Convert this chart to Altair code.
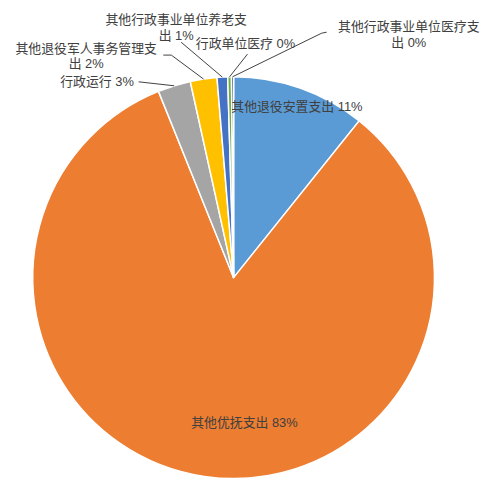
import altair as alt
import pandas as pd
import numpy as np

# ---- data ----
names = ["其他退役安置支出", "其他优抚支出", "行政运行", "其他退役军人事务管理支出",
         "其他行政事业单位养老支出", "行政单位医疗", "其他行政事业单位医疗支出"]
values = [10.75, 83.15, 2.64, 2.14, 0.85, 0.30, 0.17]
colors = ["#5B9BD5", "#ED7D31", "#A5A5A5", "#FFC000", "#4472C4", "#70AD47", "#264478"]
wrap_at = [None, None, None, 11, 11, None, 11]   # label line break position

# ---- layout (style) ----
R = 203.0                     # pie radius in px (1 data unit)
W, H = 472, 465
CX, CY = 228.0, 270.0         # pie centre within plot
xs = alt.Scale(domain=[-CX / R, (W - CX) / R], nice=False, zero=False)
ys = alt.Scale(domain=[-(H - CY) / R, CY / R], nice=False, zero=False)
LINE_GAP = 16.0 / R

# label anchor positions of first line (data units, relative to centre)
label_pos = [(0.315, 0.847), (0.054, -0.724), (-0.680, 0.975), (-0.734, 1.140),
             (-0.286, 1.283), (0.059, 1.163), (0.872, 1.248)]
# leader line start points (None = no leader line)
leader_start = [None, None,
                [(-0.473, 0.975)],
                [(-0.350, 1.108), (-0.310, 1.108)],
                [(-0.261, 1.172)],
                [(0.069, 1.113)],
                [(0.463, 1.222), (0.438, 1.217)]]

total = sum(values)
cum = np.cumsum([0] + values)
pie = pd.DataFrame({
    "name": names, "value": values, "idx": range(len(names)),
    "t0": cum[:-1], "t1": cum[1:], "cx": 0.0, "cy": 0.0,
})

labels = []
for i, n in enumerate(names):
    pct = f"{round(values[i] / total * 100)}%"
    if wrap_at[i]:
        parts = [n[:wrap_at[i]], n[wrap_at[i]:] + " " + pct]
    else:
        parts = [n + " " + pct]
    for k, p in enumerate(parts):
        labels.append({"name": n, "txt": p, "lx": label_pos[i][0],
                       "ly": label_pos[i][1] - k * LINE_GAP})
labels = pd.DataFrame(labels)

lines = []
for i, n in enumerate(names):
    if leader_start[i] is None:
        continue
    mid = (cum[i] + cum[i + 1]) / 2 / total * 2 * np.pi
    pts = list(leader_start[i]) + [(np.sin(mid) * 1.0, np.cos(mid) * 1.0)]
    for k, (px, py) in enumerate(pts):
        lines.append({"name": n, "seq": k, "px": px, "py": py})
lines = pd.DataFrame(lines)

arc = alt.Chart(pie).mark_arc(outerRadius=R, stroke="white", strokeWidth=1.5).encode(
    x=alt.X("cx:Q", scale=xs, axis=None),
    y=alt.Y("cy:Q", scale=ys, axis=None),
    theta=alt.Theta("t0:Q", scale=alt.Scale(domain=[0, total], range=[0, 2 * np.pi])),
    theta2="t1:Q",
    color=alt.Color("name:N", scale=alt.Scale(domain=names, range=colors), legend=None),
)

lead = alt.Chart(lines).mark_line(color="#404040", strokeWidth=1).encode(
    x=alt.X("px:Q", scale=xs, axis=None),
    y=alt.Y("py:Q", scale=ys, axis=None),
    detail="name:N",
    order="seq:Q",
)

text = alt.Chart(labels).mark_text(
    font="Liberation Sans, Noto Sans CJK SC", fontSize=13, color="#404040",
    align="center", baseline="middle",
).encode(
    x=alt.X("lx:Q", scale=xs, axis=None),
    y=alt.Y("ly:Q", scale=ys, axis=None),
    text="txt:N",
)

chart = alt.layer(arc, lead, text).properties(
    width=W, height=H, padding=0
).configure_view(stroke=None)

chart.save("out.html", embed_options={"renderer": "svg", "actions": False})
